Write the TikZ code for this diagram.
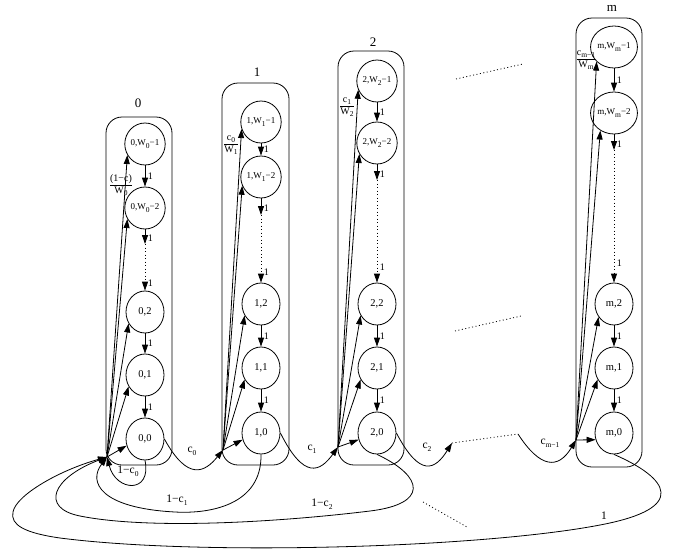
\documentclass[tikz,border=0pt]{standalone}
\usepackage{fontspec}
\setmainfont{Liberation Serif}
\usetikzlibrary{arrows.meta,shapes.geometric}
% lowered, smaller index text
\newcommand\lo[1]{\raisebox{-0.55ex}{\fontsize{7.5}{8}\selectfont #1}}
% stacked fraction made of text
\newcommand\fr[2]{{\renewcommand\arraystretch{1.05}\begin{tabular}{@{}c@{}}#1\\\hline #2\end{tabular}}}
\begin{document}
\begin{tikzpicture}[x=1pt,y=-1pt,line width=0.8pt,
  st/.style={ellipse,draw,minimum width=38pt,minimum height=42pt,inner sep=0pt,
    font=\fontsize{10.5}{12}\selectfont},
  stw/.style={st,font=\fontsize{9}{10}\selectfont},
  grp/.style={draw,rounded corners=16pt,minimum width=66pt,inner sep=0pt},
  glab/.style={font=\fontsize{13}{14}\selectfont},
  tr/.style={-{Triangle[length=9pt,width=6pt]}},
  el/.style={font=\fontsize{10}{11}\selectfont,inner sep=2.5pt},
  cl/.style={font=\fontsize{11.5}{12}\selectfont,inner sep=1pt},
  frl/.style={font=\fontsize{10}{11}\selectfont,inner sep=0pt},
  dots/.style={dash pattern=on 1pt off 2.5pt}]
\useasboundingbox (0,0) rectangle (677,552);

% group boxes and titles
\node[grp,minimum height=348pt] (b0) at (139,291) {};
\node[grp,minimum height=382pt,minimum width=67pt] (b1) at (255.5,274) {};
\node[grp,minimum height=414pt] (b2) at (371,258) {};
\node[grp,minimum height=449pt] (bm) at (609,242.5) {};
\node[glab] (t0) at (138,103) {0};
\node[glab] (t1) at (257,72) {1};
\node[glab] (t2) at (373,42) {2};
\node[glab] (tm) at (612,8) {m};

% states of stage 0
\node[stw] (a1) at (145,144) {0,W\lo{0}−1};
\node[stw] (a2) at (145,208) {0,W\lo{0}−2};
\node[st] (a7) at (145,312) {0,2};
\node[st] (a8) at (145,375) {0,1};
\node[st] (a9) at (145,439) {0,0};
% states of stage 1
\node[stw] (b1s) at (261,122) {1,W\lo{1}−1};
\node[stw] (b2s) at (261,177) {1,W\lo{1}−2};
\node[st] (b7) at (261,304) {1,2};
\node[st] (b8) at (261,368) {1,1};
\node[st] (b9) at (261,433) {1,0};
% states of stage 2
\node[stw] (c1s) at (377,81) {2,W\lo{2}−1};
\node[stw] (c2s) at (377,143) {2,W\lo{2}−2};
\node[st] (c7) at (377,304) {2,2};
\node[st] (c8) at (377,368) {2,1};
\node[st] (c9) at (377,433) {2,0};
% states of stage m
\node[stw] (m1s) at (614,47) {m,W\lo{m}−1};
\node[stw] (m2s) at (614,113) {m,W\lo{m}−2};
\node[st] (m7) at (614,304) {m,2};
\node[st] (m8) at (614,368) {m,1};
\node[st] (m9) at (614,433) {m,0};

% branching points and elided-chain points
\coordinate (f0) at (107,457);
\coordinate (f1) at (223,450);
\coordinate (f2) at (338,447);
\coordinate (fm) at (576,440);
\coordinate (ga) at (145,244);
\coordinate (gb) at (261,215);
\coordinate (gc) at (377,180);
\coordinate (gm) at (614,150);
\coordinate (d1) at (452,443);
\coordinate (d2) at (518,434);

% countdown chains
\foreach \u/\v/\w/\x/\y/\z in {a1/a2/ga/a7/a8/a9, b1s/b2s/gb/b7/b8/b9,
                               c1s/c2s/gc/c7/c8/c9, m1s/m2s/gm/m7/m8/m9}{
  \draw[tr] (\u) -- node[el,right]{1} (\v);
  \draw[tr] (\v) -- node[el,right,pos=0.6]{1} (\w);
  \draw[tr,dots] (\w) -- node[el,right,pos=0.85]{1} (\x);
  \draw[tr] (\x) -- node[el,right]{1} (\y);
  \draw[tr] (\y) -- node[el,right]{1} (\z);
}

% uniform choice of a new backoff counter
\foreach \f/\p in {f0/a, f1/b, f2/c}{
  \draw[tr] (\f) -- (\p9.200);
  \draw[tr] (\f) -- (\p8.215);
  \draw[tr] (\f) -- (\p7.215);
}
\draw[tr] (f0) -- (a2.212); \draw[tr] (f0) -- (a1.212);
\draw[tr] (f1) -- (b2s.205); \draw[tr] (f1) -- (b1s.200);
\draw[tr] (f2) -- (c2s.212); \draw[tr] (f2) -- (c1s.205);
\draw[tr] (fm) -- (m9.200); \draw[tr] (fm) -- (m8.215); \draw[tr] (fm) -- (m7.220);
\draw[tr] (fm) -- (m2s.232); \draw[tr] (fm) -- (m1s.220);

\node[frl] (q0) at (121,185) {\fr{(1−c)}{W\lo{0}}};
\node[frl] (q1) at (231,144) {\fr{c\lo{0}}{W\lo{1}}};
\node[frl] (q2) at (347,106) {\fr{c\lo{1}}{W\lo{2}}};
\node[frl] (qm) at (586,59) {\fr{c\lo{m−1}}{W\lo{m}}};

% moving to the next stage
\draw[tr] (a9.east) .. controls (188,482) and (205,472) .. (f1);
\node[cl] (l0) at (192,451) {c\lo{0}};
\draw[tr] (b9.east) .. controls (304,480) and (320,472) .. (f2);
\node[cl] (l1) at (312,449) {c\lo{1}};
\draw[tr] (c9.east) .. controls (420,478) and (435,470) .. (d1);
\node[cl] (l2) at (427,447) {c\lo{2}};
\draw[dots] (d1) -- (d2);
\draw[tr] (d2) .. controls (540,468) and (558,470) .. (fm);
\node[cl] (lm) at (550,443) {c\lo{m−1}};

% returning to stage 0
\draw[tr] (a9.south) .. controls (152,494) and (116,492) .. (f0);
\node[cl] (r0) at (128,471) {1−c\lo{0}};
\draw[tr] (b9.south) .. controls (262,505) and (210,514) .. (175,512)
  .. controls (100,508) and (88,482) .. (f0);
\node[cl] (r1) at (177,500) {1−c\lo{1}};
\draw[tr] (c9.south) .. controls (425,477) and (428,504) .. (370,511)
  .. controls (280,522) and (150,530) .. (80,516)
  .. controls (40,508) and (52,478) .. (f0);
\node[cl] (r2) at (322,504) {1−c\lo{2}};
\draw[tr] (m9.south) .. controls (668,478) and (690,508) .. (600,525)
  .. controls (480,548) and (200,556) .. (60,538)
  .. controls (25,533) and (10,525) .. (13,512)
  .. controls (16,495) and (60,470) .. (f0);
\node[cl] (rm) at (604,516) {1};

% elided stages
\draw[dots] (456,79) -- (523,64);
\draw[dots] (455,331) -- (521,316);
\draw[dots] (423,502) -- (467,527);
\end{tikzpicture}
\end{document}
